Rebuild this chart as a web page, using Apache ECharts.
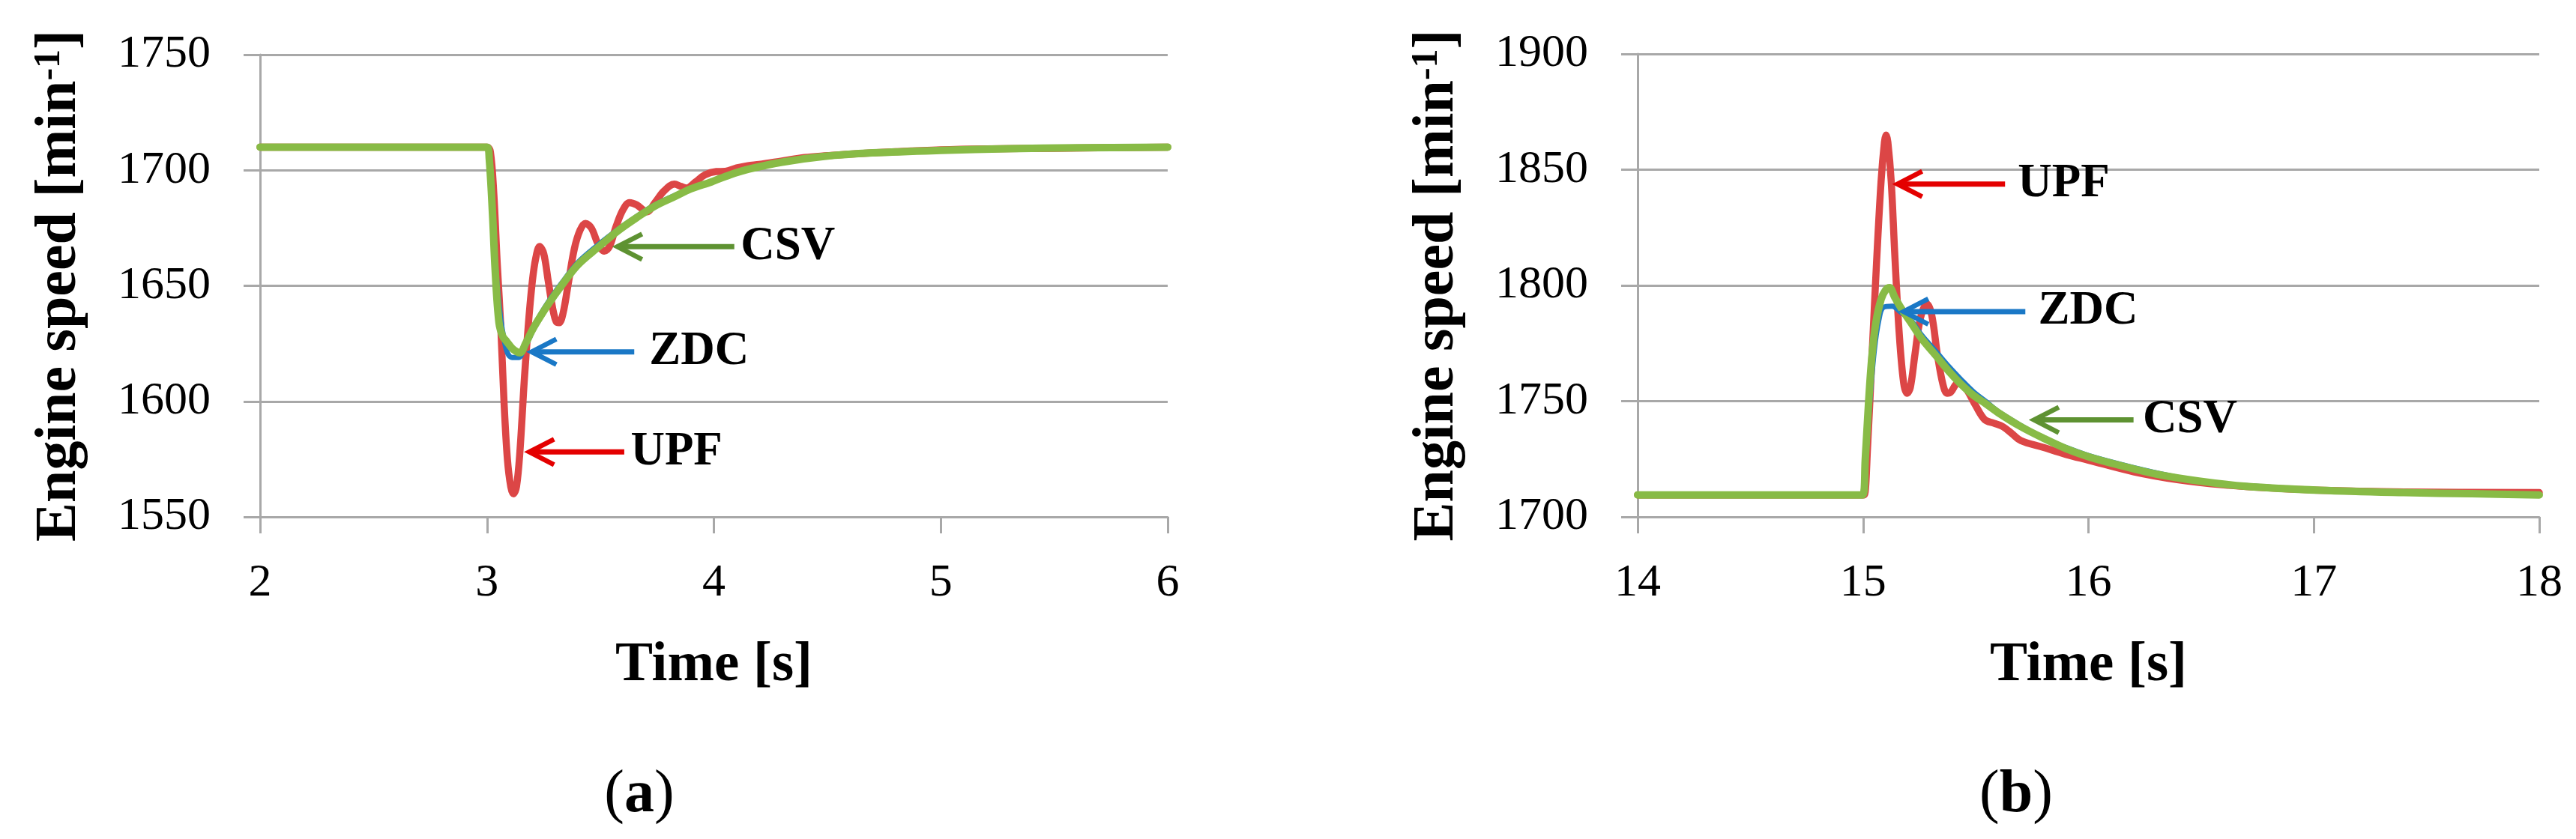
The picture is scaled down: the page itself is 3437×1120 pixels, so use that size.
<!DOCTYPE html>
<html>
<head>
<meta charset="utf-8">
<title>Engine speed</title>
<script src="https://cdn.jsdelivr.net/npm/echarts@6/dist/echarts.min.js"></script>
<style>
  html, body { margin: 0; padding: 0; background: #fff; }
  #main { width: 3437px; height: 1120px; }
</style>
</head>
<body>
<div id="main"></div>
<script>
// (a) load drop, 2..6 s
var timeTicksA = [2, 3, 4, 5, 6];
var speedTicksA = [1550, 1600, 1650, 1700, 1750];

var upfTimeA = [2.0, 3.0, 3.015, 3.03, 3.045, 3.06, 3.075, 3.09, 3.105, 3.117, 3.13, 3.145, 3.165, 3.183, 3.2, 3.215, 3.232, 3.25, 3.27, 3.29, 3.305, 3.318, 3.335, 3.36, 3.385, 3.41, 3.434, 3.46, 3.49, 3.517, 3.54, 3.57, 3.6, 3.628, 3.66, 3.705, 3.74, 3.78, 3.826, 3.855, 3.88, 3.92, 3.96, 4.01, 4.05, 4.1, 4.15, 4.2, 4.3, 4.4, 4.5, 4.6, 4.8, 5.0, 5.2, 5.5, 6.0];
var upfSpeedA = [1710, 1710, 1708, 1690, 1660, 1634, 1600, 1575, 1563, 1560, 1563, 1578, 1610, 1634, 1652, 1662, 1667, 1664, 1652, 1640, 1634.5, 1634, 1638, 1652, 1666, 1674, 1677, 1675, 1668, 1665, 1667, 1676, 1683, 1686, 1685, 1682, 1686, 1691, 1694, 1693, 1692.3, 1695, 1698, 1699.4, 1699.5, 1701, 1702, 1702.5, 1704, 1705.5, 1706.3, 1707, 1708, 1708.8, 1709.2, 1709.5, 1710];

var zdcTimeA = [2.0, 3.0, 3.01, 3.03, 3.045, 3.06, 3.075, 3.09, 3.11, 3.14, 3.16, 3.19, 3.218, 3.27, 3.328, 3.4, 3.494, 3.58, 3.66, 3.74, 3.825, 3.9, 3.99, 4.07, 4.155, 4.3, 4.486, 4.7, 5.0, 5.3, 5.6, 6.0];
var zdcSpeedA = [1710, 1710, 1705, 1672, 1650, 1636, 1627, 1621, 1619, 1619, 1622, 1628, 1634.5, 1643, 1651, 1660, 1668, 1674.5, 1680, 1685, 1689, 1692, 1695, 1698, 1700.5, 1703.5, 1706, 1707.3, 1708.5, 1709.2, 1709.6, 1710];

var csvTimeA = [2.0, 3.0, 3.01, 3.025, 3.036, 3.053, 3.07, 3.086, 3.11, 3.13, 3.146, 3.17, 3.195, 3.218, 3.27, 3.328, 3.4, 3.494, 3.58, 3.66, 3.74, 3.825, 3.9, 3.99, 4.07, 4.155, 4.3, 4.486, 4.7, 5.0, 5.3, 5.6, 6.0];
var csvSpeedA = [1710, 1710, 1705, 1680, 1657, 1634, 1628, 1626, 1623, 1621.5, 1621, 1625, 1630, 1634, 1642, 1650, 1659, 1667, 1674, 1679.5, 1684.5, 1688.5, 1692, 1695, 1698, 1700.5, 1703.5, 1706, 1707.5, 1708.6, 1709.3, 1709.7, 1710];

// (b) load rise, 14..18 s
var timeTicksB = [14, 15, 16, 17, 18];
var speedTicksB = [1700, 1750, 1800, 1850, 1900];

var upfTimeB = [14.0, 15.0, 15.006, 15.02, 15.04, 15.06, 15.08, 15.095, 15.102, 15.11, 15.125, 15.14, 15.16, 15.18, 15.196, 15.21, 15.23, 15.255, 15.284, 15.305, 15.33, 15.355, 15.373, 15.39, 15.41, 15.428, 15.46, 15.5, 15.54, 15.58, 15.62, 15.66, 15.7, 15.8, 15.9, 16.0, 16.2, 16.4, 16.6, 16.8, 17.0, 17.4, 18.0];
var upfSpeedB = [1709.5, 1709.5, 1709.5, 1730, 1770, 1810, 1845, 1862, 1865, 1862, 1845, 1815, 1780, 1758, 1753.4, 1756, 1770, 1786, 1792, 1787, 1770, 1757, 1753.4, 1754, 1757, 1758.4, 1755, 1748, 1742, 1740.5, 1739, 1736, 1733, 1730, 1727, 1724.5, 1719.5, 1716, 1713.8, 1712.5, 1711.6, 1710.8, 1710.5];

var zdcTimeB = [14.0, 15.0, 15.01, 15.03, 15.05, 15.07, 15.09, 15.13, 15.16, 15.212, 15.26, 15.323, 15.38, 15.433, 15.49, 15.543, 15.6, 15.7, 15.8, 15.9, 16.0, 16.13, 16.3, 16.49, 16.7, 17.03, 17.4, 17.7, 18.0];
var zdcSpeedB = [1709.5, 1709.5, 1722, 1750, 1772, 1785, 1790.5, 1791, 1789, 1785, 1778.5, 1771.5, 1765, 1759.5, 1754, 1750, 1745.5, 1739.5, 1734, 1730, 1726.5, 1723, 1719, 1715.5, 1713.5, 1711.6, 1710.6, 1710, 1709.6];

var csvTimeB = [14.0, 14.998, 15.01, 15.025, 15.04, 15.057, 15.08, 15.1, 15.118, 15.14, 15.17, 15.212, 15.26, 15.323, 15.38, 15.433, 15.49, 15.543, 15.6, 15.7, 15.8, 15.9, 16.0, 16.13, 16.3, 16.49, 16.7, 17.03, 17.4, 17.7, 18.0];
var csvSpeedB = [1709.5, 1709.5, 1725, 1750, 1770, 1784, 1794, 1798, 1799, 1795, 1790, 1784, 1777, 1769.7, 1763, 1757.5, 1752.5, 1749, 1745, 1739, 1734, 1729.5, 1726, 1722.5, 1718.5, 1715.5, 1713.2, 1711.5, 1710.5, 1710, 1709.5];

// arrow annotations: tip point, tail time, text start time
var arrowNames = ["UPF", "ZDC", "CSV"];
var arrowColors = ["#e40000", "#1a78c6", "#5e9232"];
var arrowTipTA = [3.18, 3.19, 3.568];
var arrowTipVA = [1578.1, 1621.4, 1666.9];
var arrowTailTA = [3.605, 3.649, 4.09];
var arrowTextTA = [3.633, 3.715, 4.118];
var arrowTipTB = [15.146, 15.173, 15.752];
var arrowTipVB = [1843.8, 1788.7, 1741.9];
var arrowTailTB = [15.63, 15.72, 16.2];
var arrowTextTB = [15.687, 15.777, 16.241];

var SERIF = "Liberation Serif";
var GRID_GRAY = "#a8a8a8";

function pairs(ts, vs) {
  return ts.map(function (t, i) { return [t, vs[i]]; });
}

function arrowData(tipT, tipV, tailT, textT) {
  return tipT.map(function (t, i) { return [t, tipV[i], tailT[i], textT[i], i]; });
}

function renderArrow(params, api) {
  var i = api.value(4);
  var tip = api.coord([api.value(0), api.value(1)]);
  var tail = api.coord([api.value(2), api.value(1)]);
  var txt = api.coord([api.value(3), api.value(1)]);
  var color = arrowColors[i];
  return {
    type: "group",
    children: [
      {
        type: "line",
        shape: { x1: tip[0] + 3, y1: tip[1], x2: tail[0], y2: tail[1] },
        style: { stroke: color, lineWidth: 7 },
      },
      {
        type: "polyline",
        shape: { points: [[tip[0] + 35, tip[1] - 17], [tip[0] + 2, tip[1]], [tip[0] + 35, tip[1] + 17]] },
        style: { stroke: color, lineWidth: 6.5, fill: null },
      },
      {
        type: "text",
        x: txt[0],
        y: txt[1],
        style: {
          text: arrowNames[i],
          fontFamily: SERIF,
          fontSize: 63,
          fontWeight: "bold",
          fill: "#000",
          align: "left",
          verticalAlign: "middle",
        },
      },
    ],
  };
}

function xAxisFor(ticks, idx) {
  return {
    type: "value",
    gridIndex: idx,
    min: ticks[0],
    max: ticks[ticks.length - 1],
    interval: 1,
    name: "Time [s]",
    nameLocation: "middle",
    nameGap: 161,
    nameTextStyle: { fontFamily: SERIF, fontSize: 75, fontWeight: "bold", color: "#000" },
    axisLine: { show: true, onZero: false, lineStyle: { color: GRID_GRAY, width: 3 } },
    axisTick: { show: true, inside: false, length: 22, lineStyle: { color: GRID_GRAY, width: 3 } },
    axisLabel: { fontFamily: SERIF, fontSize: 62, color: "#000", margin: 58 },
    splitLine: { show: false },
  };
}

function yAxisFor(ticks, idx) {
  return {
    type: "value",
    gridIndex: idx,
    min: ticks[0],
    max: ticks[ticks.length - 1],
    interval: 50,
    name: "{t|Engine speed [min}{s|-1}{t|]}",
    nameLocation: "middle",
    nameGap: 228,
    nameTextStyle: {
      fontFamily: SERIF,
      fontSize: 78,
      fontWeight: "bold",
      color: "#000",
      rich: {
        t: { fontFamily: SERIF, fontSize: 78, fontWeight: "bold", color: "#000" },
        s: { fontFamily: SERIF, fontSize: 50, fontWeight: "bold", color: "#000", verticalAlign: "top" },
      },
    },
    axisLine: { show: true, onZero: false, lineStyle: { color: GRID_GRAY, width: 3 } },
    axisTick: { show: true, inside: false, length: 22, lineStyle: { color: GRID_GRAY, width: 3 } },
    axisLabel: {
      fontFamily: SERIF,
      fontSize: 62,
      color: "#000",
      margin: 66,
      formatter: function (v) { return String(v); },
    },
    splitLine: { show: true, lineStyle: { color: GRID_GRAY, width: 3 } },
  };
}

function lineSeries(name, data, color, width, idx, z) {
  return {
    name: name,
    type: "line",
    xAxisIndex: idx,
    yAxisIndex: idx,
    data: data,
    showSymbol: false,
    smooth: 0.35,
    sampling: "none",
    z: z,
    lineStyle: { color: color, width: width, cap: "round", join: "round" },
  };
}

function caption(letter, x) {
  return {
    type: "text",
    x: x,
    y: 1062,
    style: {
      text: "{p|(}{b|" + letter + "}{p|)}",
      align: "center",
      verticalAlign: "middle",
      rich: {
        p: { fontFamily: SERIF, fontSize: 80, fill: "#000" },
        b: { fontFamily: SERIF, fontSize: 80, fontWeight: "bold", fill: "#000" },
      },
    },
  };
}

var myChart = echarts.init(document.getElementById("main"));
var option = {
  animation: false,
  backgroundColor: "#fff",
  grid: [
    { left: 347, top: 73, width: 1211, height: 617, outerBoundsMode: "none" },
    { left: 2185, top: 72, width: 1203, height: 618, outerBoundsMode: "none" },
  ],
  xAxis: [xAxisFor(timeTicksA, 0), xAxisFor(timeTicksB, 1)],
  yAxis: [yAxisFor(speedTicksA, 0), yAxisFor(speedTicksB, 1)],
  series: [
    lineSeries("UPF", pairs(upfTimeA, upfSpeedA), "#dc4646", 9.5, 0, 2),
    lineSeries("ZDC", pairs(zdcTimeA, zdcSpeedA), "#1f7bc5", 7, 0, 3),
    lineSeries("CSV", pairs(csvTimeA, csvSpeedA), "#88bb46", 10, 0, 4),
    lineSeries("UPF", pairs(upfTimeB, upfSpeedB), "#dc4646", 9.5, 1, 2),
    lineSeries("ZDC", pairs(zdcTimeB, zdcSpeedB), "#1f7bc5", 7, 1, 3),
    lineSeries("CSV", pairs(csvTimeB, csvSpeedB), "#88bb46", 10, 1, 4),
    {
      type: "custom",
      xAxisIndex: 0,
      yAxisIndex: 0,
      z: 6,
      silent: true,
      renderItem: renderArrow,
      data: arrowData(arrowTipTA, arrowTipVA, arrowTailTA, arrowTextTA),
    },
    {
      type: "custom",
      xAxisIndex: 1,
      yAxisIndex: 1,
      z: 6,
      silent: true,
      renderItem: renderArrow,
      data: arrowData(arrowTipTB, arrowTipVB, arrowTailTB, arrowTextTB),
    },
  ],
  graphic: [caption("a", 853), caption("b", 2690)],
};
option && myChart.setOption(option);
</script>
</body>
</html>
